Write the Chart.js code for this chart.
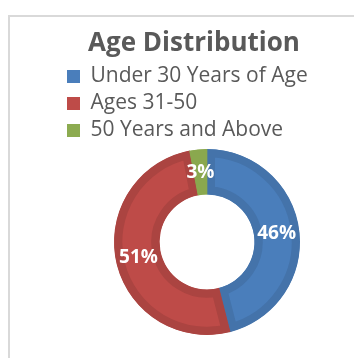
<!DOCTYPE html>
<html>
<head>
<meta charset="utf-8">
<script src="https://cdn.jsdelivr.net/npm/chart.js@4/dist/chart.umd.min.js"></script>
<style>
  html, body { margin: 0; padding: 0; background: #fff; overflow: hidden; }
  #frame {
    position: absolute; left: 8px; top: 15px;
    width: 400px; height: 400px;
    border: 2px solid #d9d9d9;
  }
  #age_canvas { position: absolute; left: 0; top: 0; }
</style>
</head>
<body>
<div id="frame"></div>
<canvas id="age_canvas" width="354" height="358"></canvas>
<script>
// age groups and their share of people (percent)
var age_labels = ['Under 30 Years of Age', 'Ages 31-50', '50 Years and Above'];
var age_values = [46, 51, 3];
var age_colors = ['#4a7ebb', '#be4b48', '#8cab50'];
var age_edges = ['#4473aa', '#ab4441', '#8aa84e'];

// write the percent on each ring segment
var pctLabels = {
    id: 'pctLabels',
    afterDatasetsDraw: function (chart) {
        var ctx = chart.ctx;
        var meta = chart.getDatasetMeta(0);
        ctx.save();
        ctx.fillStyle = '#ffffff';
        ctx.font = 'bold 19px "Open Sans"';
        ctx.textAlign = 'center';
        ctx.textBaseline = 'middle';
        meta.data.forEach(function (arc, i) {
            var p = arc.tooltipPosition();
            ctx.fillText(chart.data.datasets[0].data[i] + '%', p.x, p.y);
        });
        ctx.restore();
    }
};

// ring sits a bit right of the title and tucks up under the legend
var ringShift = {
    id: 'ringShift',
    afterLayout: function (chart) {
        chart.chartArea.left += 13;
        chart.chartArea.right += 13;
        chart.chartArea.top -= 4;
    }
};

var ctx = document.getElementById('age_canvas').getContext('2d');
var ageChart = new Chart(ctx, {
    type: 'doughnut',
    data: {
        labels: age_labels,
        datasets: [{
            data: age_values,
            backgroundColor: age_colors,
            borderColor: age_edges,
            borderWidth: 8,
            borderAlign: 'inner',
            hoverOffset: 0
        }]
    },
    options: {
        responsive: false,
        animation: false,
        cutout: '51%',
        layout: {
            padding: { left: 61, right: 27, top: 0, bottom: 21 }
        },
        plugins: {
            title: {
                display: true,
                text: 'Age Distribution',
                color: '#595959',
                font: { family: 'Open Sans', size: 26, weight: 'bold', lineHeight: 1 },
                padding: { top: 31, bottom: 3 }
            },
            legend: {
                position: 'top',
                align: 'start',
                labels: {
                    color: '#595959',
                    font: { family: 'Open Sans', size: 21 },
                    boxWidth: 13,
                    boxHeight: 13,
                    padding: 6,
                    // plain filled squares, no outline
                    generateLabels: function (chart) {
                        var items = Chart.overrides.doughnut.plugins.legend.labels.generateLabels(chart);
                        items.forEach(function (it) {
                            it.lineWidth = 0;
                            it.strokeStyle = it.fillStyle;
                        });
                        return items;
                    }
                }
            },
            tooltip: { enabled: false }
        }
    },
    plugins: [pctLabels, ringShift]
});
</script>
</body>
</html>
